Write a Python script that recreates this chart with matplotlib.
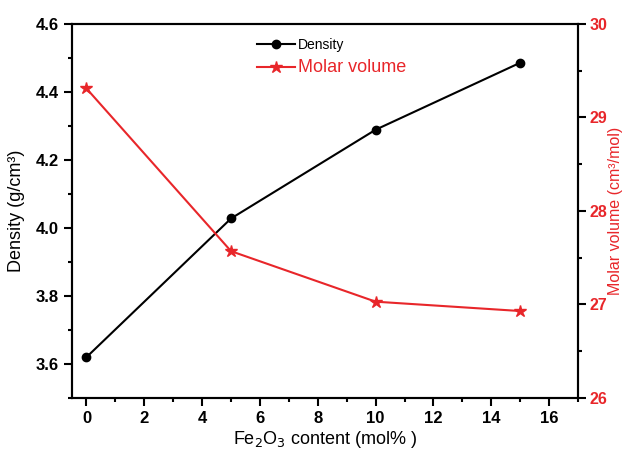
import matplotlib.pyplot as plt
from matplotlib.ticker import MultipleLocator

# data
fe2o3 = [0, 5, 10, 15]
density = [3.62, 4.028, 4.289, 4.486]
molar_volume = [29.31, 27.57, 27.03, 26.93]

RED = '#e8262a'
plt.rcParams['font.family'] = ['Liberation Sans', 'DejaVu Sans']

fig = plt.figure(figsize=(6.22, 4.5), dpi=100)
ax = fig.add_axes([0.1158, 0.1156, 0.8135, 0.8311])
ax2 = ax.twinx()

l1, = ax.plot(fe2o3, density, color='black', marker='o', markersize=6, lw=1.5, label='Density')
l2, = ax2.plot(fe2o3, molar_volume, color=RED, marker='*', markersize=9, lw=1.5, label='Molar volume')

ax.set_xlim(-0.5, 17)
ax.set_ylim(3.5, 4.6)
ax2.set_ylim(26, 30)

ax.xaxis.set_major_locator(MultipleLocator(2))
ax.xaxis.set_minor_locator(MultipleLocator(1))
ax.yaxis.set_major_locator(MultipleLocator(0.2))
ax.yaxis.set_minor_locator(MultipleLocator(0.1))
ax2.yaxis.set_major_locator(MultipleLocator(1))
ax2.yaxis.set_minor_locator(MultipleLocator(0.5))

for a in (ax, ax2):
    for s in a.spines.values():
        s.set_linewidth(1.5)
    a.tick_params(which='major', direction='out', length=6, width=1.5)
    a.tick_params(which='minor', direction='out', length=3, width=1.5)

ax.tick_params(axis='both', labelsize=12)
ax2.tick_params(axis='y', labelsize=11.5, labelcolor=RED, pad=2)
for lab in ax.get_xticklabels() + ax.get_yticklabels() + ax2.get_yticklabels():
    lab.set_fontweight('bold')

ax.set_xlabel('Fe$_2$O$_3$ content (mol% )', fontsize=13, labelpad=2)
ax.set_ylabel('Density (g/cm³)', fontsize=13)
ax.yaxis.set_label_coords(-0.093, 0.5)
ax2.set_ylabel('Molar volume (cm³/mol)', fontsize=11.5, color=RED)
ax2.yaxis.set_label_coords(1.06, 0.5)

leg = ax.legend([l1, l2], ['Density', 'Molar volume'], loc='upper left',
                bbox_to_anchor=(0.34, 0.995), frameon=False, handlelength=2.8,
                handletextpad=0.2, labelspacing=0.5)
texts = leg.get_texts()
texts[0].set_fontsize(10)
texts[0].set_color('black')
texts[1].set_fontsize(13)
texts[1].set_color(RED)

fig.savefig('out.png', dpi=100)
